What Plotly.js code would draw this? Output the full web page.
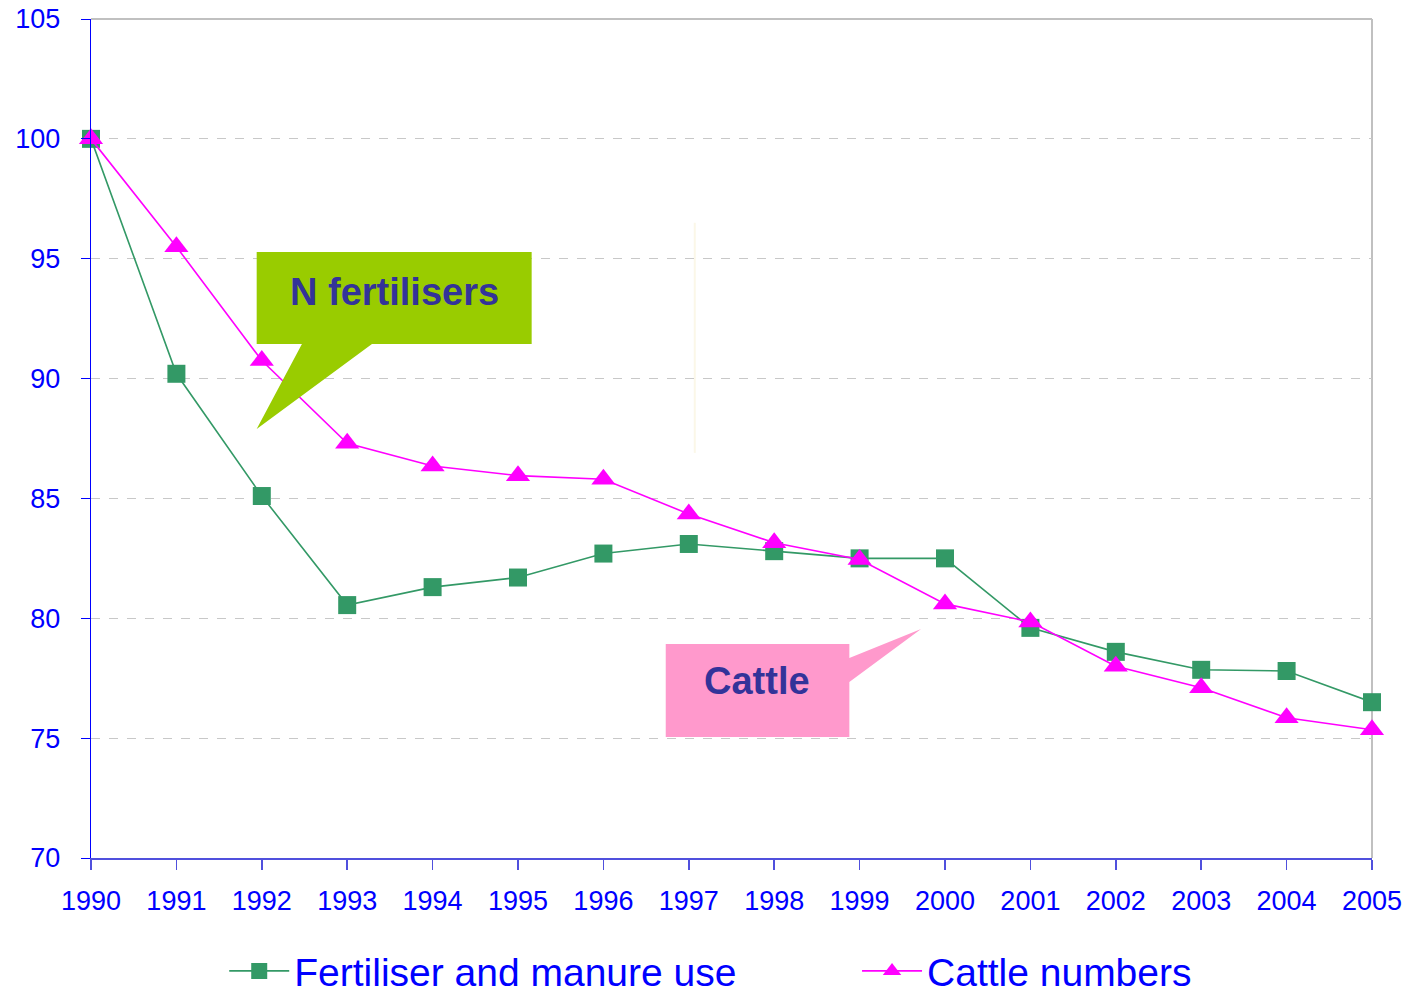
<!DOCTYPE html>
<html>
<head>
<meta charset="utf-8">
<script src="https://cdn.plot.ly/plotly-3.0.1.min.js"></script>
<style>html,body{margin:0;padding:0;background:#fff;}#chart{width:1409px;height:999px;}</style>
</head>
<body>
<div id="chart"></div>
<script>
const years = [1990,1991,1992,1993,1994,1995,1996,1997,1998,1999,2000,2001,2002,2003,2004,2005];
const fertiliser = [100,90.2,85.1,80.55,81.3,81.7,82.7,83.1,82.8,82.5,82.5,79.6,78.6,77.85,77.8,76.5];
const cattle = [100,95.5,90.75,87.3,86.35,85.95,85.8,84.35,83.15,82.45,80.6,79.85,78.0,77.1,75.85,75.35];
const seriesNames = ['Fertiliser and manure use','Cattle numbers'];
const yTicks = [70,75,80,85,90,95,100,105];
const calloutTexts = ['N fertilisers','Cattle'];

const traces = [
  {x: years, y: fertiliser, name: seriesNames[0], type: 'scatter', mode: 'lines+markers', legend: 'legend',
   line: {color: '#339966', width: 1.6}, marker: {symbol: 'square', size: 18, color: '#339966'}, cliponaxis: false},
  {x: years, y: cattle, name: seriesNames[1], type: 'scatter', mode: 'lines+markers', legend: 'legend2',
   line: {color: '#FF00FF', width: 1.6}, marker: {symbol: 'triangle-up', size: 21, color: '#FF00FF'}, cliponaxis: false}
];

const legendCommon = {orientation: 'h', yref: 'container', yanchor: 'middle', y: 0.028, xanchor: 'left',
  font: {size: 39, color: '#0000FF'}, itemwidth: 60, bgcolor: 'rgba(0,0,0,0)', borderwidth: 0};

const layout = {
  width: 1409, height: 999,
  margin: {l: 91, r: 37, t: 19, b: 141},
  paper_bgcolor: '#fff', plot_bgcolor: '#fff',
  font: {family: 'Liberation Sans, Arial, sans-serif', color: '#0000FF'},
  showlegend: true,
  legend: Object.assign({}, legendCommon, {x: 0.104}),
  legend2: Object.assign({}, legendCommon, {x: 0.598}),
  xaxis: {range: [1990, 2005], tickvals: years, ticktext: years.map(String), showgrid: false, zeroline: false,
    showline: true, linecolor: '#5050DD', linewidth: 2, ticks: 'outside', ticklen: 10, tickcolor: '#5050DD', tickwidth: 1.5,
    tickfont: {size: 27, color: '#0000FF'}, ticklabelstandoff: 8},
  yaxis: {range: [70, 105], tickvals: yTicks, showgrid: true, gridcolor: '#C8C8C8', griddash: 'dash', gridwidth: 1,
    zeroline: false, showline: true, linecolor: '#0000FF', linewidth: 1.2, ticks: 'outside', ticklen: 9, tickcolor: '#0000FF',
    tickfont: {size: 27, color: '#0000FF'}, ticklabelstandoff: 15},
  shapes: [
    {type: 'line', xref: 'paper', yref: 'paper', x0: 0, x1: 1, y0: 1, y1: 1, line: {color: '#C0C0C0', width: 2}, layer: 'below'},
    {type: 'line', xref: 'paper', yref: 'paper', x0: 1, x1: 1, y0: 0, y1: 1, line: {color: '#C0C0C0', width: 2}, layer: 'below'},
    {type: 'line', xref: 'x', yref: 'y', x0: 1997.07, x1: 1997.07, y0: 96.5, y1: 86.9, line: {color: '#FBF7E8', width: 2}, layer: 'below'},
    {type: 'path', xref: 'x', yref: 'y', fillcolor: '#99CC00', line: {width: 0}, layer: 'above',
     path: 'M 1991.94 95.28 L 1995.16 95.28 L 1995.16 91.44 L 1993.29 91.44 L 1991.94 87.9 L 1992.47 91.44 L 1991.94 91.44 Z'},
    {type: 'path', xref: 'x', yref: 'y', fillcolor: '#FF99CC', line: {width: 0}, layer: 'above',
     path: 'M 1996.73 78.93 L 1998.88 78.93 L 1998.88 78.34 L 1999.72 79.55 L 1998.88 77.34 L 1998.88 75.05 L 1996.73 75.05 Z'}
  ],
  annotations: [
    {x: 1993.55, y: 93.6, xref: 'x', yref: 'y', text: '<b>' + calloutTexts[0] + '</b>', showarrow: false,
     font: {size: 38, color: '#333399', family: 'Liberation Sans, Arial, sans-serif'}},
    {x: 1997.8, y: 77.4, xref: 'x', yref: 'y', text: '<b>' + calloutTexts[1] + '</b>', showarrow: false,
     font: {size: 38, color: '#333399', family: 'Liberation Sans, Arial, sans-serif'}}
  ]
};

Plotly.newPlot('chart', traces, layout, {displayModeBar: false, staticPlot: true});
</script>
</body>
</html>
